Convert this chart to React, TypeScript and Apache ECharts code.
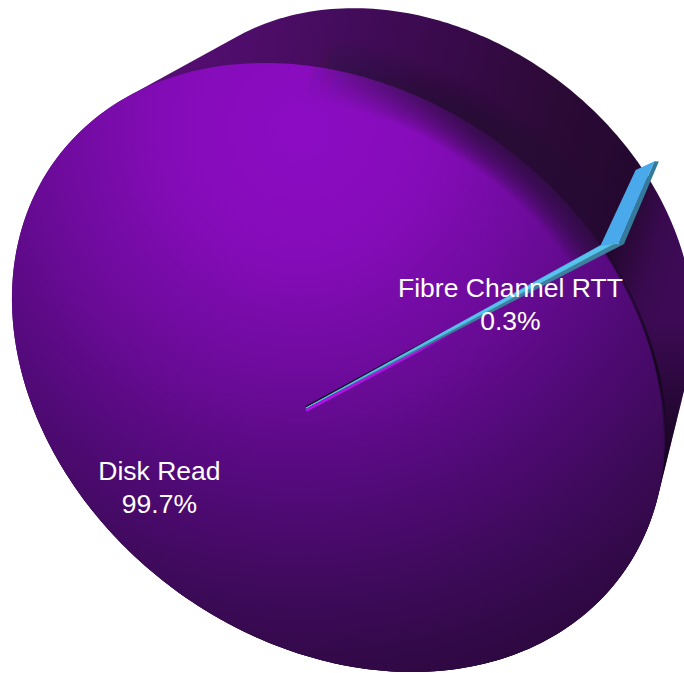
import React, { useEffect, useRef } from "react";
import * as echarts from "echarts";

// Share of response time per component
const sliceNames = ["Disk Read", "Fibre Channel RTT"];
const sliceValues = [99.7, 0.3];
const sliceLabels = ["99.7%", "0.3%"];

// Perspective model of the disc: an ellipse for the front face and a smaller one for the back
const WIDTH = 684;
const HEIGHT = 673;
const APEX = [306, 408];
const FACE_CENTER = [338.5, 367.5];
const AXIS_A = 351;
const AXIS_B = 276;
const TILT = (36.4 * Math.PI) / 180;
const BACK_CENTER = [416, 267];
const BACK_SCALE = 0.85;
const FIRST_SLICE_END = -28.87; // screen angle where the small slice begins, degrees
const RIM_FLARE = 1.05;
const LABEL_FRACTION = [0.71, 0.69];
const LABEL_DROP = [0, 7];
const RIM_SHADE_STEPS = 17;
const RIM_SHADE_MAX_WIDTH = 68;

const rad = (d: number) => (d * Math.PI) / 180;

// Distance from the apex to the face ellipse along a screen angle
function rimDistance(deg: number) {
  const dx = Math.cos(rad(deg));
  const dy = Math.sin(rad(deg));
  const ox = APEX[0] - FACE_CENTER[0];
  const oy = APEX[1] - FACE_CENTER[1];
  const c = Math.cos(TILT);
  const s = Math.sin(TILT);
  const du = (dx * c + dy * s) / AXIS_A;
  const dv = (-dx * s + dy * c) / AXIS_B;
  const ou = (ox * c + oy * s) / AXIS_A;
  const ov = (-ox * s + oy * c) / AXIS_B;
  const a = du * du + dv * dv;
  const b = 2 * (du * ou + dv * ov);
  const k = ou * ou + ov * ov - 1;
  return (-b + Math.sqrt(b * b - 4 * a * k)) / (2 * a);
}

function rimPoint(deg: number, flare = 1) {
  const r = rimDistance(deg) * flare;
  return [APEX[0] + r * Math.cos(rad(deg)), APEX[1] + r * Math.sin(rad(deg))];
}

// Same point pushed towards the back of the disc; depth 1 is the back face
function toBack(p: number[], depth = 1) {
  const bx = BACK_CENTER[0] + BACK_SCALE * (p[0] - FACE_CENTER[0]);
  const by = BACK_CENTER[1] + BACK_SCALE * (p[1] - FACE_CENTER[1]);
  return [p[0] + (bx - p[0]) * depth, p[1] + (by - p[1]) * depth];
}

function convexHull(points: number[][]) {
  const pts = [...points].sort((a, b) => a[0] - b[0] || a[1] - b[1]);
  const cross = (o: number[], a: number[], b: number[]) =>
    (a[0] - o[0]) * (b[1] - o[1]) - (a[1] - o[1]) * (b[0] - o[0]);
  const lower: number[][] = [];
  for (const p of pts) {
    while (lower.length >= 2 && cross(lower[lower.length - 2], lower[lower.length - 1], p) <= 0) lower.pop();
    lower.push(p);
  }
  const upper: number[][] = [];
  for (const p of pts.reverse()) {
    while (upper.length >= 2 && cross(upper[upper.length - 2], upper[upper.length - 1], p) <= 0) upper.pop();
    upper.push(p);
  }
  return lower.slice(0, -1).concat(upper.slice(0, -1));
}

const stops = (list: [number, string][]) => list.map(([offset, color]) => ({ offset, color }));

function renderSlice(params: any, api: any) {
  const total = sliceValues.reduce((a, b) => a + b, 0);
  const smallSpan = (sliceValues[1] / total) * 360;
  const a0 = FIRST_SLICE_END;
  const a1 = a0 + smallSpan;
  const children: any[] = [];
  const value = api.value(0);
  const span = (value / total) * 360;

  if (params.dataIndex === 0) {
    const ring: number[][] = [];
    for (let d = 0; d < 360; d += 1) ring.push(rimPoint(d));
    const body = convexHull(ring.concat(ring.map((p) => toBack(p))));
    children.push({
      type: "polygon",
      shape: { points: body },
      style: {
        fill: new echarts.graphic.LinearGradient(
          110, 70, 684, 240,
          stops([
            [0, "#5c0f7c"],
            [0.35, "#440c5c"],
            [0.54, "#380a4a"],
            [0.745, "#2b0a35"],
            [0.89, "#240830"],
            [0.96, "#3a0a50"],
            [1, "#3d0a55"],
          ]),
          true
        ),
      },
    });
    children.push({
      type: "polygon",
      shape: { points: body },
      style: {
        fill: new echarts.graphic.LinearGradient(
          0, 320, 0, 480,
          stops([
            [0, "rgba(10,4,16,0)"],
            [1, "rgba(10,4,16,0.85)"],
          ]),
          true
        ),
      },
    });
    const face: number[][] = [APEX];
    for (let d = a1; d <= a1 + span; d += 1) face.push(rimPoint(d));
    face.push(rimPoint(a1 + span));
    children.push({
      type: "polygon",
      shape: { points: face },
      style: {
        fill: new echarts.graphic.RadialGradient(
          300, 130, 600,
          stops([
            [0, "#8c0cc4"],
            [0.2, "#860cba"],
            [0.4, "#6f0b9e"],
            [0.6, "#530a7a"],
            [0.8, "#3b0a56"],
            [1, "#280838"],
          ]),
          true
        ),
      },
    });
    // Soft falloff where the face meets the upper-right wall
    const upperArc: number[][] = [];
    for (let d = -92; d <= a0; d += 1) upperArc.push(rimPoint(d));
    for (let i = 1; i <= RIM_SHADE_STEPS; i += 1) {
      children.push({
        type: "polyline",
        shape: { points: upperArc },
        style: {
          fill: "none",
          lineWidth: (RIM_SHADE_MAX_WIDTH * i) / RIM_SHADE_STEPS,
          stroke: new echarts.graphic.LinearGradient(
            305, 70, 480, 130,
            stops([
              [0, "rgba(36,8,50,0)"],
              [1, "rgba(36,8,50,0.08)"],
            ]),
            true
          ),
        },
      });
    }
    // Shadow along the right-hand rim of the face
    const shadow: number[][] = [];
    for (let d = a1; d <= 30; d += 1) shadow.push(rimPoint(d));
    children.push({
      type: "polyline",
      shape: { points: shadow },
      style: {
        fill: "none",
        stroke: new echarts.graphic.LinearGradient(
          600, 240, 668, 470,
          stops([
            [0, "rgba(14,6,20,0.25)"],
            [0.6, "rgba(14,6,20,0.8)"],
            [1, "rgba(14,6,20,0)"],
          ]),
          true
        ),
        lineWidth: 3,
      },
    });
  } else {
    const p0 = rimPoint(a0);
    const pm = rimPoint(a0 + (a1 - a0) * 0.7, 1 + (RIM_FLARE - 1) * 0.7);
    const p1 = rimPoint(a1, RIM_FLARE);
    const p2 = rimPoint(a1 + 0.45, RIM_FLARE + 0.012);
    const fade = (from: string, to: string) =>
      new echarts.graphic.LinearGradient(APEX[0], APEX[1], 450, 330, stops([[0, from], [0.75, from], [1, to]]), true);
    // Edge of the slice: dark above, bright below, both fading out from the apex
    children.push({
      type: "line",
      shape: { x1: APEX[0], y1: APEX[1] + 2.5, x2: 450, y2: 334 },
      style: { stroke: fade("#b012e6", "rgba(176,18,230,0)"), lineWidth: 3 },
    });
    children.push({
      type: "line",
      shape: { x1: APEX[0], y1: APEX[1] - 1, x2: 450, y2: 329 },
      style: { stroke: fade("#12081c", "rgba(18,8,28,0)"), lineWidth: 2 },
    });
    children.push({
      type: "polygon",
      shape: { points: [APEX, pm, p1, p2] },
      style: { fill: "#3f7f9e", stroke: "#3f7f9e", lineWidth: 0.8 },
    });
    children.push({
      type: "polygon",
      shape: { points: [APEX, p0, p1, pm] },
      style: { fill: "#55c4ee", stroke: "#55c4ee", lineWidth: 0.8 },
    });
    children.push({
      type: "polygon",
      shape: { points: [p1, toBack(p1), toBack(p2), p2] },
      style: { fill: "#347a9a" },
    });
    children.push({
      type: "polygon",
      shape: { points: [p0, toBack(p0, 0.92), toBack(p1), p1] },
      style: { fill: "#4aa9ea" },
    });
  }

  const start = params.dataIndex === 0 ? a1 : a0;
  const mid = start + span / 2;
  const labelR = rimDistance(mid) * LABEL_FRACTION[params.dataIndex];
  children.push({
    type: "text",
    z2: 10,
    style: {
      text: `${sliceNames[params.dataIndex]}\n${sliceLabels[params.dataIndex]}`,
      x: APEX[0] + labelR * Math.cos(rad(mid)),
      y: APEX[1] + labelR * Math.sin(rad(mid)) + LABEL_DROP[params.dataIndex],
      fill: "#ffffff",
      font: "26.5px 'Liberation Sans', Arial, sans-serif",
      lineHeight: 33,
      align: "center",
      verticalAlign: "middle",
    },
  });
  return { type: "group", children };
}

export default function App() {
  const ref = useRef<HTMLDivElement>(null);
  useEffect(() => {
    const chart = echarts.init(ref.current!, undefined, { renderer: "svg" });
    chart.setOption({
      animation: false,
      backgroundColor: "#ffffff",
      series: [
        {
          type: "custom",
          coordinateSystem: "none",
          clip: false,
          data: sliceValues.map((value, i) => ({ name: sliceNames[i], value })),
          renderItem: renderSlice,
        },
      ],
    });
    return () => chart.dispose();
  }, []);
  return (
    <div
      ref={ref}
      style={{ position: "fixed", left: 0, top: 0, width: WIDTH, height: HEIGHT }}
    />
  );
}
